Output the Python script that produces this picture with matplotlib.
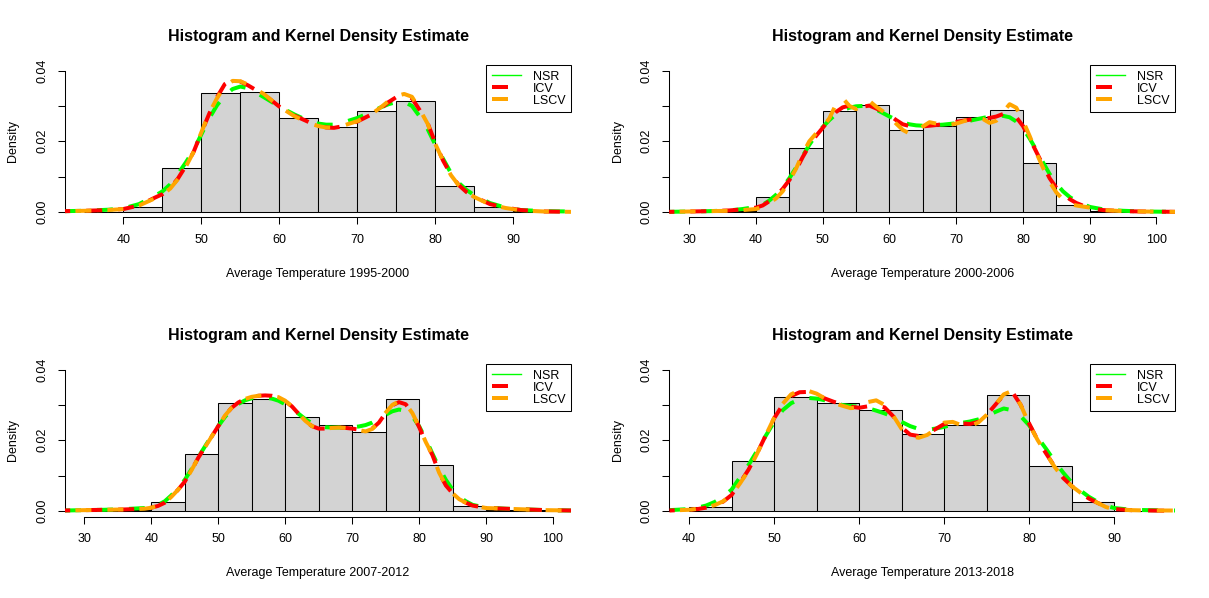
import matplotlib
matplotlib.use("Agg")
import matplotlib.pyplot as plt
from matplotlib.lines import Line2D

plt.rcParams['font.family'] = ['Liberation Sans', 'DejaVu Sans']

# ---- data ----
periods = ["1995-2000", "2000-2006", "2007-2012", "2013-2018"]

# histogram breaks and densities
hist_edges_1 = [35, 40, 45, 50, 55, 60, 65, 70, 75, 80, 85, 90, 95]
hist_dens_1 = [0.0000, 0.0014, 0.0125, 0.0337, 0.0339, 0.0265, 0.0240, 0.0285, 0.0313, 0.0072, 0.0014, 0.0001]
hist_edges_2 = [30, 35, 40, 45, 50, 55, 60, 65, 70, 75, 80, 85, 90, 95, 100]
hist_dens_2 = [0.0001, 0.0002, 0.0043, 0.0181, 0.0285, 0.0302, 0.0232, 0.0243, 0.0269, 0.0288, 0.0138, 0.0020, 0.0001, 0.0001]
hist_edges_3 = [30, 35, 40, 45, 50, 55, 60, 65, 70, 75, 80, 85, 90, 95, 100]
hist_dens_3 = [0.0001, 0.0001, 0.0025, 0.0161, 0.0306, 0.0316, 0.0265, 0.0243, 0.0223, 0.0316, 0.0130, 0.0015, 0.0001, 0.0001]
hist_edges_4 = [40, 45, 50, 55, 60, 65, 70, 75, 80, 85, 90, 95]
hist_dens_4 = [0.0012, 0.0142, 0.0322, 0.0305, 0.0285, 0.0217, 0.0243, 0.0328, 0.0127, 0.0025, 0.0000]

# kernel density curves (NSR, ICV, LSCV bandwidths)
kde_x_1 = [32.5, 35, 38, 40, 42, 44, 45, 46, 47, 48, 49, 50, 51, 52, 53, 54, 55, 56, 57, 58,
           60, 62, 64, 65, 66, 67, 68, 70, 72, 73, 74, 75, 76, 77, 78, 79, 80, 81, 82, 83,
           84, 85, 87, 89, 91, 94, 97.4]
nsr_1 = [0.0002, 0.0003, 0.0006, 0.0010, 0.0022, 0.0045, 0.0058, 0.0078, 0.0108, 0.0140,
         0.0175, 0.0220, 0.0265, 0.0302, 0.0330, 0.0348, 0.0355, 0.0350, 0.0338, 0.0325,
         0.0298, 0.0275, 0.0255, 0.0250, 0.0247, 0.0247, 0.0252, 0.0266, 0.0285, 0.0296,
         0.0305, 0.0311, 0.0312, 0.0300, 0.0270, 0.0235, 0.0190, 0.0150, 0.0110, 0.0082,
         0.0062, 0.0047, 0.0025, 0.0012, 0.0005, 0.0002, 0.0001]
icv_1 = [0.0002, 0.0003, 0.0005, 0.0008, 0.0018, 0.0040, 0.0050, 0.0068, 0.0095, 0.0130,
         0.0170, 0.0225, 0.0278, 0.0325, 0.0362, 0.0376, 0.0369, 0.0358, 0.0345, 0.0333,
         0.0298, 0.0272, 0.0252, 0.0245, 0.0239, 0.0238, 0.0242, 0.0256, 0.0278, 0.0293,
         0.0311, 0.0325, 0.0332, 0.0322, 0.0288, 0.0252, 0.0195, 0.0145, 0.0105, 0.0076,
         0.0056, 0.0043, 0.0022, 0.0012, 0.0005, 0.0001, 0.0000]
lscv_1 = [0.0002, 0.0003, 0.0005, 0.0008, 0.0018, 0.0038, 0.0049, 0.0066, 0.0093, 0.0128,
          0.0170, 0.0226, 0.0280, 0.0322, 0.0356, 0.0371, 0.0370, 0.0360, 0.0347, 0.0334,
          0.0298, 0.0270, 0.0250, 0.0243, 0.0239, 0.0239, 0.0243, 0.0257, 0.0280, 0.0296,
          0.0314, 0.0328, 0.0334, 0.0326, 0.0290, 0.0250, 0.0192, 0.0145, 0.0104, 0.0075,
          0.0055, 0.0042, 0.0021, 0.0011, 0.0004, 0.0001, 0.0000]

kde_x_2 = [27, 30, 33, 36, 38, 40, 41, 42, 43, 44, 45, 46, 47, 48, 49, 50, 51, 52, 53, 54,
           55, 56, 57, 58, 59, 60, 61, 62, 63, 64, 65, 66, 67, 68, 70, 72, 73, 74, 75, 76,
           77, 78, 79, 80, 81, 82, 83, 84, 85, 86, 87, 88, 90, 92, 95, 98, 102.9]
nsr_2 = [0.0000, 0.0001, 0.0002, 0.0004, 0.0008, 0.0014, 0.0020, 0.0032, 0.0048, 0.0070,
         0.0095, 0.0125, 0.0158, 0.0190, 0.0218, 0.0240, 0.0260, 0.0277, 0.0288, 0.0295,
         0.0299, 0.0300, 0.0297, 0.0290, 0.0280, 0.0270, 0.0261, 0.0253, 0.0248, 0.0245,
         0.0244, 0.0245, 0.0246, 0.0247, 0.0251, 0.0258, 0.0262, 0.0266, 0.0270, 0.0272,
         0.0272, 0.0268, 0.0256, 0.0236, 0.0208, 0.0175, 0.0140, 0.0107, 0.0080, 0.0058,
         0.0042, 0.0030, 0.0014, 0.0007, 0.0003, 0.0001, 0.0000]
icv_2 = [0.0000, 0.0001, 0.0002, 0.0004, 0.0007, 0.0012, 0.0018, 0.0030, 0.0045, 0.0065,
         0.0090, 0.0118, 0.0155, 0.0188, 0.0215, 0.0238, 0.0262, 0.0283, 0.0296, 0.0301,
         0.0299, 0.0298, 0.0301, 0.0293, 0.0284, 0.0274, 0.0260, 0.0248, 0.0243, 0.0241,
         0.0242, 0.0244, 0.0246, 0.0248, 0.0255, 0.0261, 0.0263, 0.0264, 0.0266, 0.0270,
         0.0277, 0.0280, 0.0268, 0.0243, 0.0208, 0.0170, 0.0132, 0.0095, 0.0068, 0.0052,
         0.0036, 0.0025, 0.0010, 0.0005, 0.0002, 0.0001, 0.0000]
lscv_2 = [0.0000, 0.0001, 0.0002, 0.0003, 0.0005, 0.0008, 0.0015, 0.0025, 0.0038, 0.0058,
          0.0088, 0.0122, 0.0165, 0.0200, 0.0222, 0.0240, 0.0265, 0.0305, 0.0322, 0.0300,
          0.0291, 0.0302, 0.0314, 0.0298, 0.0285, 0.0270, 0.0250, 0.0232, 0.0222, 0.0228,
          0.0242, 0.0254, 0.0250, 0.0243, 0.0250, 0.0262, 0.0266, 0.0263, 0.0252, 0.0258,
          0.0282, 0.0305, 0.0295, 0.0258, 0.0215, 0.0168, 0.0125, 0.0085, 0.0055, 0.0035,
          0.0022, 0.0018, 0.0012, 0.0005, 0.0002, 0.0001, 0.0000]

kde_x_3 = [27.1, 30, 33, 36, 39, 40, 41, 42, 43, 44, 45, 46, 47, 48, 49, 50, 51, 52, 53, 54,
           55, 56, 57, 58, 59, 60, 61, 62, 63, 64, 65, 66, 67, 68, 69, 70, 71, 72, 73, 74,
           75, 76, 77, 78, 79, 80, 81, 82, 83, 84, 85, 86, 87, 88, 90, 93, 96, 99, 102.7]
nsr_3 = [0.0001, 0.0002, 0.0003, 0.0005, 0.0008, 0.0011, 0.0017, 0.0027, 0.0044, 0.0065,
         0.0088, 0.0118, 0.0152, 0.0182, 0.0212, 0.0240, 0.0266, 0.0288, 0.0303, 0.0313,
         0.0319, 0.0321, 0.0321, 0.0318, 0.0312, 0.0302, 0.0290, 0.0275, 0.0260, 0.0248,
         0.0240, 0.0237, 0.0236, 0.0236, 0.0236, 0.0237, 0.0239, 0.0243, 0.0250, 0.0260,
         0.0272, 0.0282, 0.0287, 0.0283, 0.0268, 0.0240, 0.0203, 0.0162, 0.0122, 0.0088,
         0.0060, 0.0040, 0.0027, 0.0017, 0.0009, 0.0006, 0.0004, 0.0002, 0.0001]
icv_3 = [0.0001, 0.0002, 0.0003, 0.0004, 0.0006, 0.0009, 0.0014, 0.0023, 0.0040, 0.0060,
         0.0083, 0.0115, 0.0150, 0.0180, 0.0210, 0.0240, 0.0270, 0.0292, 0.0307, 0.0317,
         0.0323, 0.0326, 0.0327, 0.0326, 0.0321, 0.0311, 0.0296, 0.0275, 0.0255, 0.0240,
         0.0233, 0.0233, 0.0235, 0.0236, 0.0235, 0.0233, 0.0230, 0.0227, 0.0233, 0.0250,
         0.0277, 0.0299, 0.0308, 0.0302, 0.0277, 0.0238, 0.0195, 0.0158, 0.0108, 0.0072,
         0.0050, 0.0033, 0.0023, 0.0015, 0.0008, 0.0006, 0.0004, 0.0002, 0.0001]
lscv_3 = [0.0001, 0.0002, 0.0003, 0.0004, 0.0006, 0.0009, 0.0014, 0.0023, 0.0040, 0.0060,
          0.0083, 0.0115, 0.0150, 0.0180, 0.0210, 0.0240, 0.0270, 0.0292, 0.0307, 0.0317,
          0.0323, 0.0326, 0.0327, 0.0326, 0.0322, 0.0312, 0.0296, 0.0275, 0.0255, 0.0240,
          0.0233, 0.0233, 0.0235, 0.0236, 0.0235, 0.0233, 0.0229, 0.0225, 0.0232, 0.0250,
          0.0278, 0.0300, 0.0310, 0.0303, 0.0277, 0.0238, 0.0195, 0.0158, 0.0108, 0.0072,
          0.0050, 0.0033, 0.0023, 0.0015, 0.0008, 0.0006, 0.0004, 0.0002, 0.0001]

kde_x_4 = [37.7, 40, 41, 42, 43, 44, 45, 46, 47, 48, 49, 50, 51, 52, 53, 54, 55, 56, 57, 58,
           59, 60, 61, 62, 63, 64, 65, 66, 67, 68, 69, 70, 71, 72, 73, 74, 75, 76, 77, 78,
           79, 80, 81, 82, 83, 84, 85, 86, 87, 88, 89, 90, 92, 94, 97.2]
nsr_4 = [0.0002, 0.0005, 0.0009, 0.0015, 0.0025, 0.0040, 0.0060, 0.0095, 0.0130, 0.0170,
         0.0212, 0.0252, 0.0285, 0.0305, 0.0316, 0.0320, 0.0318, 0.0313, 0.0306, 0.0300,
         0.0297, 0.0295, 0.0291, 0.0284, 0.0276, 0.0266, 0.0252, 0.0240, 0.0232, 0.0230,
         0.0233, 0.0238, 0.0244, 0.0249, 0.0253, 0.0259, 0.0268, 0.0280, 0.0290, 0.0285,
         0.0268, 0.0242, 0.0208, 0.0175, 0.0140, 0.0108, 0.0080, 0.0058, 0.0040, 0.0026,
         0.0015, 0.0008, 0.0003, 0.0002, 0.0001]
icv_4 = [0.0001, 0.0003, 0.0005, 0.0009, 0.0015, 0.0026, 0.0045, 0.0080, 0.0117, 0.0163,
         0.0213, 0.0262, 0.0300, 0.0325, 0.0336, 0.0337, 0.0330, 0.0318, 0.0309, 0.0302,
         0.0295, 0.0292, 0.0296, 0.0300, 0.0293, 0.0268, 0.0236, 0.0216, 0.0212, 0.0218,
         0.0232, 0.0246, 0.0250, 0.0248, 0.0246, 0.0252, 0.0272, 0.0300, 0.0328, 0.0337,
         0.0300, 0.0247, 0.0200, 0.0162, 0.0125, 0.0093, 0.0070, 0.0052, 0.0035, 0.0023,
         0.0012, 0.0005, 0.0002, 0.0001, 0.0000]
lscv_4 = [0.0001, 0.0003, 0.0006, 0.0010, 0.0016, 0.0027, 0.0045, 0.0078, 0.0115, 0.0162,
          0.0213, 0.0263, 0.0303, 0.0330, 0.0342, 0.0340, 0.0332, 0.0318, 0.0306, 0.0298,
          0.0291, 0.0293, 0.0308, 0.0313, 0.0300, 0.0270, 0.0232, 0.0212, 0.0207, 0.0215,
          0.0232, 0.0250, 0.0252, 0.0243, 0.0240, 0.0250, 0.0272, 0.0300, 0.0330, 0.0340,
          0.0300, 0.0245, 0.0200, 0.0162, 0.0124, 0.0093, 0.0070, 0.0052, 0.0035, 0.0023,
          0.0011, 0.0004, 0.0002, 0.0001, 0.0001]

x_ticks_1 = [40, 50, 60, 70, 80, 90]
x_ticks_2 = [30, 40, 50, 60, 70, 80, 90, 100]
x_ticks_3 = [30, 40, 50, 60, 70, 80, 90, 100]
x_ticks_4 = [40, 50, 60, 70, 80, 90]
y_ticks = [0.0, 0.01, 0.02, 0.03, 0.04]
y_tick_labels = ["0.00", "", "0.02", "", "0.04"]
legend_labels = ["NSR", "ICV", "LSCV"]

panels = [
    (hist_edges_1, hist_dens_1, kde_x_1, nsr_1, icv_1, lscv_1, x_ticks_1, (32.5, 97.4)),
    (hist_edges_2, hist_dens_2, kde_x_2, nsr_2, icv_2, lscv_2, x_ticks_2, (27.05, 102.85)),
    (hist_edges_3, hist_dens_3, kde_x_3, nsr_3, icv_3, lscv_3, x_ticks_3, (27.1, 102.7)),
    (hist_edges_4, hist_dens_4, kde_x_4, nsr_4, icv_4, lscv_4, x_ticks_4, (37.7, 97.2)),
]

W, H = 1209, 598
fig = plt.figure(figsize=(W / 100, H / 100), dpi=100)

# plot regions in pixels (left, top, right, bottom)
regions = [(65, 65, 571, 217.5), (669.5, 65, 1175.5, 217.5),
           (65, 364, 571, 516.5), (669.5, 364, 1175.5, 516.5)]

LW = 2.88          # 4 px
GREEN, RED, ORANGE = "#00FF00", "#FF0000", "#FFA500"

for i, (edges, dens, kx, nsr, icv, lscv, xt, xlim) in enumerate(panels):
    x0, y0, x1, y1 = regions[i]
    ax = fig.add_axes([x0 / W, 1 - y1 / H, (x1 - x0) / W, (y1 - y0) / H])

    widths = [edges[k + 1] - edges[k] for k in range(len(dens))]
    ax.bar(edges[:-1], dens, width=widths, align='edge', color="#D3D3D3",
           edgecolor="black", linewidth=0.75, zorder=1)

    ax.plot(kx, nsr, color=GREEN, lw=LW, linestyle=(0, (4, 4)), zorder=2)
    ax.plot(kx, icv, color=RED, lw=LW, linestyle=(2.7, (4, 4)), zorder=3)
    ax.plot(kx, lscv, color=ORANGE, lw=LW, linestyle=(5.4, (4, 4)), zorder=4)

    ax.set_xlim(*xlim)
    ax.set_ylim(-0.0016, 0.0416)

    for s in ("top", "right"):
        ax.spines[s].set_visible(False)
    ax.spines["left"].set_bounds(0, 0.04)
    ax.spines["bottom"].set_bounds(xt[0], xt[-1])
    ax.spines["left"].set_linewidth(0.75)
    ax.spines["bottom"].set_linewidth(0.75)

    ax.set_xticks(xt)
    ax.set_yticks(y_ticks)
    ax.set_yticklabels(y_tick_labels)
    ax.tick_params(axis='both', direction='out', length=5, width=0.75,
                   labelsize=9, pad=7)
    for lab in ax.get_yticklabels():
        lab.set_rotation(90)
        lab.set_va('center')

    ax.set_title("Histogram and Kernel Density Estimate", fontsize=11.5,
                 fontweight='bold', pad=17)
    ax.set_xlabel("Average Temperature " + periods[i], fontsize=9)
    ax.xaxis.set_label_coords(0.5, -0.33)
    ax.set_ylabel("Density", fontsize=9)
    ax.yaxis.set_label_coords(-0.09, 0.5)

    handles = [Line2D([], [], color=GREEN, lw=1.0),
               Line2D([], [], color=RED, lw=LW, linestyle=(0, (4, 4))),
               Line2D([], [], color=ORANGE, lw=LW, linestyle=(0, (4, 4)))]
    leg = ax.legend(handles, legend_labels, loc='upper right', bbox_to_anchor=(1, 1),
                    borderaxespad=0, fontsize=9, fancybox=False, framealpha=1,
                    edgecolor='black', handlelength=2.35, handletextpad=0.95,
                    borderpad=0.45, labelspacing=0.0)
    leg.get_frame().set_linewidth(0.75)

fig.savefig("out.png", dpi=100)
